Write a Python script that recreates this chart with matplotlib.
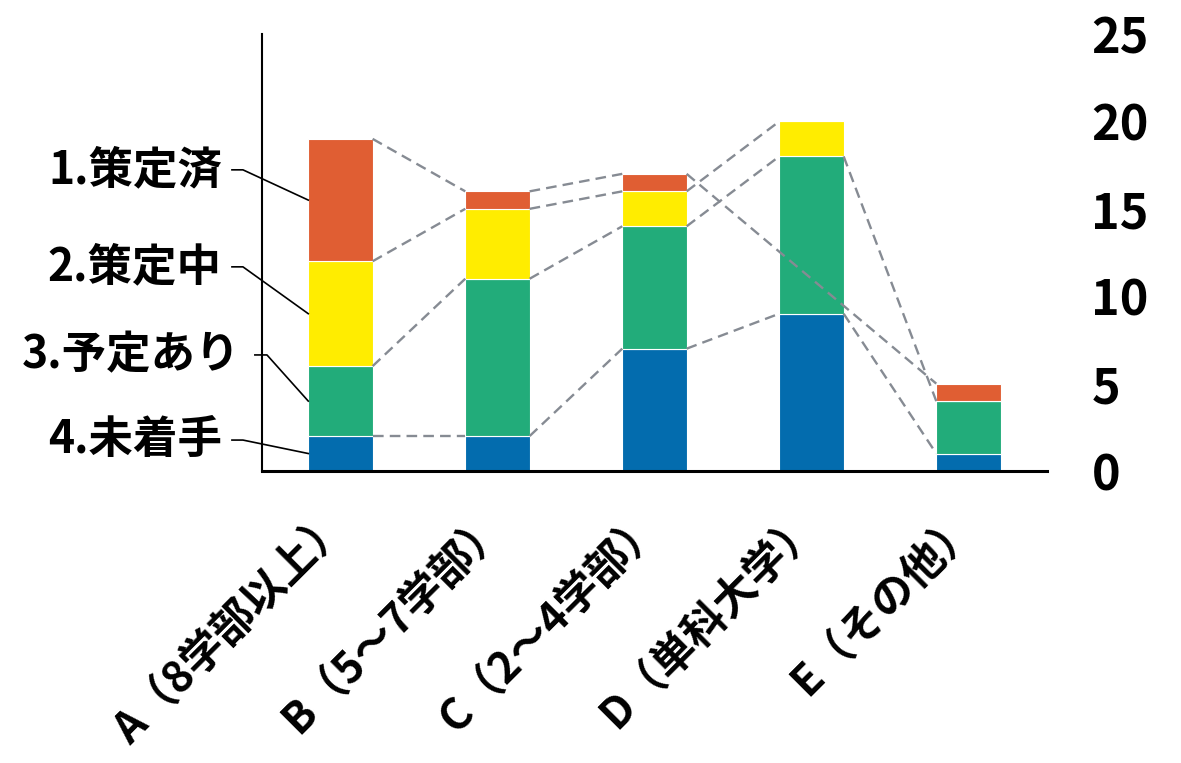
import numpy as np
import matplotlib
matplotlib.use("Agg")
import matplotlib.pyplot as plt

plt.rcParams['font.family'] = ['Noto Sans CJK JP', 'DejaVu Sans']
plt.rcParams['font.weight'] = 'bold'

categories = ['A（8学部以上）', 'B（5～7学部）', 'C（2～4学部）', 'D（単科大学）', 'E（その他）']

# stacked bottom -> top; nan = no entry for that group
series_names = ['4.未着手', '3.予定あり', '2.策定中', '1.策定済']
not_started = [2, 2, 7, 9, 1]
planned = [4, 9, 7, 9, 3]
in_progress = [6, 4, 2, 2, np.nan]
done = [7, 1, 1, np.nan, 1]
series_values = [not_started, planned, in_progress, done]
colors = ['#036cae', '#22ac7a', '#ffed00', '#e05e33']

yticks = [0, 5, 10, 15, 20, 25]

fig = plt.figure(figsize=(11.81, 7.63), dpi=100)
ax = fig.add_axes([0.2218, 0.3827, 0.6647, 0.5727])

x = np.arange(len(categories))
width = 0.41
bottom = np.zeros(len(categories))
tops = []
for vals, c in zip(series_values, colors):
    v = np.array(vals, dtype=float)
    h = np.nan_to_num(v)
    ax.bar(x, h, width, bottom=bottom, color=c, edgecolor='white',
           linewidth=0.8, zorder=2)
    top = bottom + h
    tops.append(np.where(np.isnan(v), np.nan, top))
    bottom = top

# series lines between neighbouring bars (gaps skipped)
for top in tops:
    idx = [i for i in range(len(x)) if not np.isnan(top[i])]
    for a, b in zip(idx[:-1], idx[1:]):
        ax.plot([x[a] + width / 2, x[b] - width / 2], [top[a], top[b]],
                color='#868b93', lw=1.7, dashes=(4.5, 2.6), zorder=3)

# labels with leader lines to the first bar
label_pos = [(-0.755, 1.77, -0.691, -0.621),
             (-0.64, 6.64, -0.545, -0.468),
             (-0.755, 11.68, -0.691, -0.621),
             (-0.755, 17.23, -0.691, -0.621)]
bot0 = 0.0
for name, vals, (tx, ty, sx, bx) in zip(series_names, series_values, label_pos):
    h = vals[0]
    mid = bot0 + h / 2
    bot0 += h
    ax.text(tx, ty, name, ha='right', va='center', fontsize=32,
            fontweight='bold', clip_on=False)
    ax.plot([sx, bx, -width / 2], [ty, ty, mid], color='black', lw=1.2,
            clip_on=False, zorder=4)

ax.set_xlim(-0.5, len(categories) - 0.5)
ax.set_ylim(0, 25)
ax.set_yticks(yticks)
ax.yaxis.tick_right()
ax.tick_params(axis='y', length=0, pad=32, labelsize=35)
for lab in ax.get_yticklabels():
    lab.set_horizontalalignment('left')
ax.set_xticks(x)
ax.set_xticklabels(categories, rotation=45, ha='right', va='center',
                   rotation_mode='anchor', fontsize=31, fontweight='bold')
ax.tick_params(axis='x', length=0, pad=33)

ax.spines['right'].set_visible(False)
ax.spines['top'].set_visible(False)
ax.spines['left'].set_linewidth(1.5)
ax.spines['bottom'].set_linewidth(2.2)

fig.savefig('out.png', dpi=100)
